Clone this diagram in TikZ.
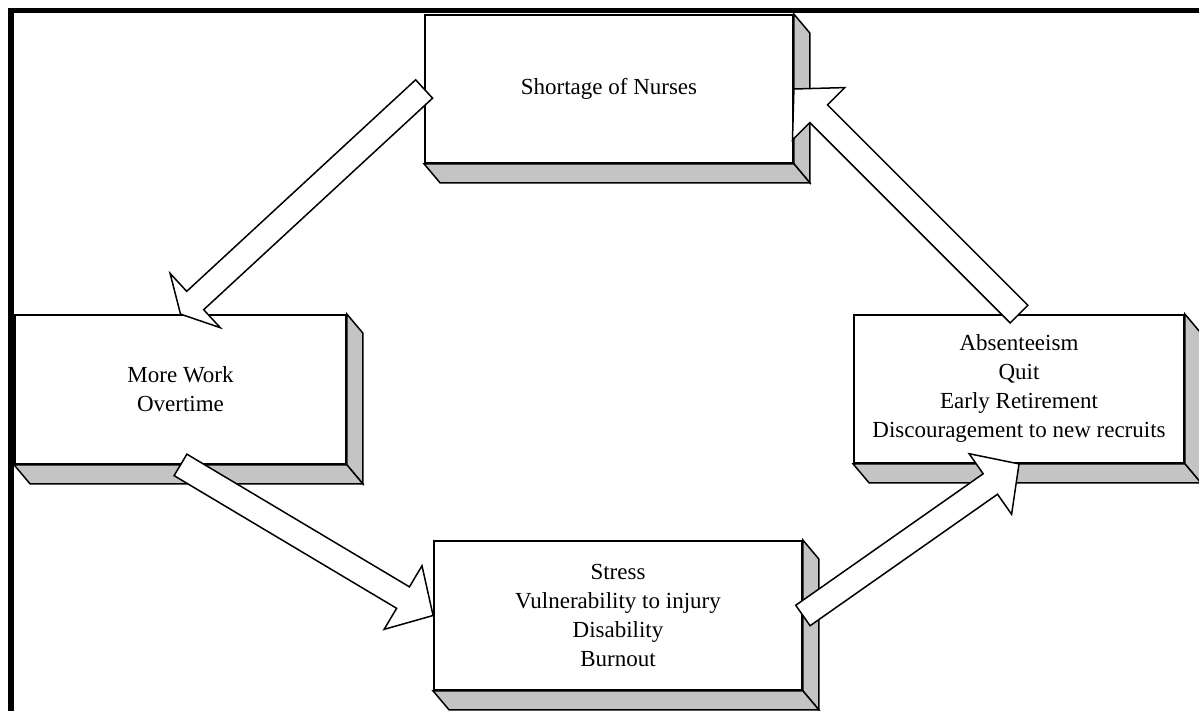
\documentclass[tikz,border=0pt]{standalone}
\usepackage{fontspec}
\setmainfont{Liberation Serif}
\usetikzlibrary{calc}
\definecolor{sidegray}{RGB}{196,196,196}
\tikzset{
  face/.style={draw=black, line width=1.8pt, fill=white, rectangle, inner sep=0pt,
    align=center, font=\fontsize{23}{29}\selectfont},
  depthface/.style={draw=black, line width=1.5pt, fill=sidegray, line join=miter},
  blockarr/.style={draw=black, line width=1.5pt, fill=white, line join=miter},
  frameline/.style={fill=black},
}
% extruded side and bottom faces of a box node
\newcommand{\boxdepth}[1]{%
  \draw[depthface] (#1.north east) -- ++(16,19) -- ($(#1.south east)+(16,19)$)
    -- (#1.south east) -- cycle;
  \draw[depthface] (#1.south west) -- ++(16,19) -- ($(#1.south east)+(16,19)$)
    -- (#1.south east) -- cycle;
}
% hollow block arrow from #1 to #2 with head length #3
\newcommand{\blockarrow}[3]{%
  \path ($(#2)!#3!(#1)$) coordinate (ahbase);
  \draw[blockarr] ($(#1)!12.5pt!90:(#2)$) -- ($(ahbase)!12.5pt!90:(#2)$)
    -- ($(ahbase)!37pt!90:(#2)$) -- (#2) -- ($(ahbase)!37pt!-90:(#2)$)
    -- ($(ahbase)!12.5pt!-90:(#2)$) -- ($(#1)!12.5pt!-90:(#2)$) -- cycle;
}
\begin{document}
\begin{tikzpicture}[x=1pt, y=-1pt]
\useasboundingbox (0,0) rectangle (1199,711);

% boxes
\node[face, minimum width=368pt, minimum height=148pt] (shortage) at (609,89)
  {Shortage of Nurses};
\node[face, minimum width=331pt, minimum height=149pt] (morework) at (180.5,389.5)
  {More Work\\Overtime};
\node[face, minimum width=330pt, minimum height=148pt] (absent) at (1019,389)
  {Absenteeism\\Quit\\Early Retirement\\Discouragement to new recruits};
\node[face, minimum width=368pt, minimum height=149pt] (stress) at (618,615.5)
  {Stress\\Vulnerability to injury\\Disability\\Burnout};

\boxdepth{shortage}
\boxdepth{morework}
\boxdepth{absent}
\boxdepth{stress}

% cycle arrows
\blockarrow{shortage.west}{morework.north}{20pt}
\blockarrow{morework.south}{stress.west}{35pt}
\blockarrow{stress.east}{absent.south}{35pt}
\blockarrow{absent.north}{shortage.east}{35pt}

% frame lines along top and left
\fill[frameline] (8,8) rectangle (1199,13);
\fill[frameline] (8,8) rectangle (14,711);
\end{tikzpicture}
\end{document}
